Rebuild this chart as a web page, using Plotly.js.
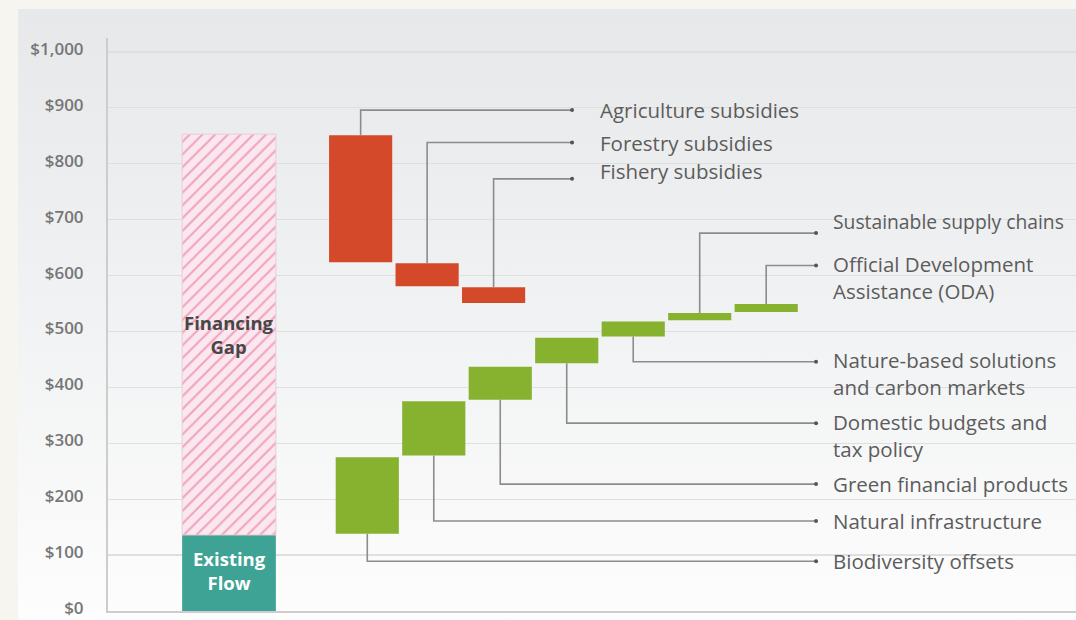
<!DOCTYPE html>
<html>
<head>
<meta charset="utf-8">
<script src="https://cdn.plot.ly/plotly-3.0.1.min.js"></script>
<style>
  html, body { margin:0; padding:0; background:#f6f5f0; }
  #panel { position:absolute; left:18px; top:9px; width:1058px; height:611px;
           background: linear-gradient(to bottom, #e7e8ea 0%, #f1f2f3 50%, #fdfdfd 100%); }
  #chart { position:absolute; left:0; top:0; width:1076px; height:620px; }
</style>
</head>
<body>
<div id="panel"></div>
<div id="chart"></div>
<script>
// ---- data (US$ billions) ----
const existingFlow = 136;
const totalNeed = 853;

const redLabels = ["Agriculture subsidies", "Forestry subsidies", "Fishery subsidies"];
const redTop    = [851, 622, 579];
const redBottom = [624, 581, 551];

const greenLabels = [
  "Biodiversity offsets",
  "Natural infrastructure",
  "Green financial products",
  "Domestic budgets and<br>tax policy",
  "Nature-based solutions<br>and carbon markets",
  "Sustainable supply chains",
  "Official Development<br>Assistance (ODA)"
];
const greenBottom = [138, 278, 378, 443, 491, 520, 535];
const greenTop    = [275, 375, 437, 489, 518, 533, 549];

const yTickVals = [0, 100, 200, 300, 400, 500, 600, 700, 800, 900, 1000];
const yTickText = ["$0", "$100", "$200", "$300", "$400", "$500", "$600", "$700", "$800", "$900", "$1,000"];

// ---- layout constants ----
const pitch = 1;
const redStart = 3.8, greenStart = 3.9, barW = 0.95;
const redLabelY   = [896, 838, 773];
const redTextShift = [0, 0, 8];
const greenLabelY = [89, 161, 227, 336, 446, 676, 618];
const greenTextShift = [0, 0, 0, 0, 0, 12, 0];
const greenTextSize = [20.5, 20.5, 20.5, 20.5, 20.5, 19.3, 20.5];
const redLineEnd = 6.98, redTextX = 7.37;
const greenLineEnd = 10.65, greenTextX = 10.88;
const lineColor = "#8c8c8c";
const labelFamily = "Open Sans, sans-serif";
const labelColor = "#5c5c5c";

const traces = [];
traces.push({type:"bar", x:[1.82], y:[existingFlow], base:[0], width:[1.41],
  marker:{color:"#3ea394", line:{width:0}}, hoverinfo:"skip"});
traces.push({type:"bar", x:[1.82], y:[totalNeed-existingFlow], base:[existingFlow], width:[1.41],
  marker:{color:"#fbe7ef", line:{color:"#e8cdd6", width:1},
          pattern:{shape:"/", fgcolor:"#f0a3bb", bgcolor:"#fbe7ef", size:9, solidity:0.22}},
  hoverinfo:"skip"});

const redX = redTop.map((_, i) => redStart + i*pitch);
const greenX = greenTop.map((_, i) => greenStart + i*pitch);

traces.push({type:"bar", x:redX, y:redTop.map((t,i)=>t-redBottom[i]), base:redBottom,
  width:barW, marker:{color:"#d5492b"}, hoverinfo:"skip"});
traces.push({type:"bar", x:greenX, y:greenTop.map((t,i)=>t-greenBottom[i]), base:greenBottom,
  width:barW, marker:{color:"#86b22f"}, hoverinfo:"skip"});

const annotations = [];
const dotsX = [], dotsY = [];
redLabels.forEach((lab, i) => {
  traces.push({type:"scatter", mode:"lines", x:[redX[i], redX[i], redLineEnd],
    y:[redTop[i], redLabelY[i], redLabelY[i]], line:{color:lineColor, width:1.6},
    hoverinfo:"skip"});
  dotsX.push(redLineEnd); dotsY.push(redLabelY[i]);
  annotations.push({x:redTextX, y:redLabelY[i], xref:"x", yref:"y", text:lab,
    xanchor:"left", yanchor:"middle", align:"left", showarrow:false,
    yshift:redTextShift[i], font:{family:labelFamily, size:20.5, color:labelColor}});
});
greenLabels.forEach((lab, i) => {
  const above = greenLabelY[i] > greenTop[i];
  const start = above ? greenTop[i] : greenBottom[i];
  traces.push({type:"scatter", mode:"lines", x:[greenX[i], greenX[i], greenLineEnd],
    y:[start, greenLabelY[i], greenLabelY[i]], line:{color:lineColor, width:1.6},
    hoverinfo:"skip"});
  dotsX.push(greenLineEnd); dotsY.push(greenLabelY[i]);
  const nLines = lab.split("<br>").length;
  annotations.push({x:greenTextX, y:greenLabelY[i], xref:"x", yref:"y", text:lab,
    xanchor:"left", yanchor:"middle", align:"left", showarrow:false,
    yshift:greenTextShift[i] - (nLines-1)*12,
    font:{family:labelFamily, size:greenTextSize[i], color:labelColor}});
});
traces.push({type:"scatter", mode:"markers", x:dotsX, y:dotsY,
  marker:{color:"#555", size:4}, hoverinfo:"skip"});

annotations.push({x:1.82, y:(existingFlow+totalNeed)/2, xref:"x", yref:"y",
  text:"<b>Financing<br>Gap</b>", showarrow:false, yanchor:"middle",
  font:{family:"Open Sans, sans-serif", size:18.5, color:"#474747"}});
annotations.push({x:1.82, y:existingFlow/2, xref:"x", yref:"y",
  text:"<b>Existing<br>Flow</b>", showarrow:false, yanchor:"middle", yshift:2,
  font:{family:"Open Sans, sans-serif", size:18.5, color:"#ffffff"}});

const layout = {
  width:1076, height:620,
  margin:{l:108, r:0, t:38, b:9, pad:0},
  paper_bgcolor:"rgba(0,0,0,0)", plot_bgcolor:"rgba(0,0,0,0)",
  showlegend:false, barmode:"overlay",
  xaxis:{range:[0, 14.56], showgrid:false, zeroline:false, showticklabels:false,
         showline:true, linecolor:"#cdcdcd", linewidth:2, fixedrange:true},
  yaxis:{range:[0, 1025], tickmode:"array", tickvals:yTickVals, ticktext:yTickText,
         showgrid:true, gridcolor:"#dedfe1", gridwidth:1.2, zeroline:false,
         showline:true, linecolor:"#cdcdcd", linewidth:2,
         ticks:"outside", ticklen:19, tickcolor:"rgba(0,0,0,0)",
         ticklabeloverflow:"allow", ticklabelshift:-3,
         tickfont:{family:"Open Sans, sans-serif", size:17, color:"#767676", weight:600},
         fixedrange:true},
  annotations:annotations
};
Plotly.newPlot("chart", traces, layout, {displayModeBar:false, staticPlot:true});
</script>
</body>
</html>
